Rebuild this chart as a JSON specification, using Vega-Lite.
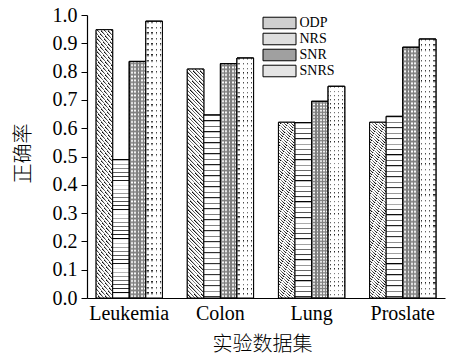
{
 "$schema": "https://vega.github.io/schema/vega-lite/v6.json",
 "width": 358, "height": 283,
 "autosize": {"type": "none"},
 "padding": {"left": 87, "top": 15, "right": 5, "bottom": 60},
 "background": "white",
 "config": {"font": "Liberation Serif", "view": {"stroke": null},
  "axis": {"grid": false, "domainColor": "#000", "tickColor": "#000", "labelColor": "#000", "titleColor": "#000", "domainWidth": 1.2,
   "labelFont": "Liberation Serif", "labelFontSize": 20, "titleFont": "Noto Sans CJK SC", "titleFontSize": 20, "titleFontWeight": 300}},
 "data": {"values": [
  {"dataset": "Leukemia", "method": "ODP", "value": 0.948},
  {"dataset": "Leukemia", "method": "NRS", "value": 0.489},
  {"dataset": "Leukemia", "method": "SNR", "value": 0.836},
  {"dataset": "Leukemia", "method": "SNRS", "value": 0.978},
  {"dataset": "Colon", "method": "ODP", "value": 0.809},
  {"dataset": "Colon", "method": "NRS", "value": 0.647},
  {"dataset": "Colon", "method": "SNR", "value": 0.828},
  {"dataset": "Colon", "method": "SNRS", "value": 0.848},
  {"dataset": "Lung", "method": "ODP", "value": 0.621},
  {"dataset": "Lung", "method": "NRS", "value": 0.62},
  {"dataset": "Lung", "method": "SNR", "value": 0.695},
  {"dataset": "Lung", "method": "SNRS", "value": 0.748},
  {"dataset": "Proslate", "method": "ODP", "value": 0.621},
  {"dataset": "Proslate", "method": "NRS", "value": 0.642},
  {"dataset": "Proslate", "method": "SNR", "value": 0.886},
  {"dataset": "Proslate", "method": "SNRS", "value": 0.915}
 ]},
 "encoding": {
  "x": {"field": "dataset", "type": "nominal", "sort": ["Leukemia", "Colon", "Lung", "Proslate"],
   "scale": {"paddingInner": 0.273, "paddingOuter": 0.1},
   "axis": {"title": "实验数据集", "labelAngle": 0, "ticks": false, "labelFont": "Liberation Serif", "labelFontSize": 20, "labelPadding": 5,
    "titleFont": "Noto Sans CJK SC", "titleFontSize": 20, "titleFontWeight": 300, "titleX": 175, "titleY": 46, "titleBaseline": "middle", "titleAlign": "center"}},
  "xOffset": {"field": "method", "type": "nominal", "sort": ["ODP", "NRS", "SNR", "SNRS"], "scale": {"domain": ["ODP", "NRS", "SNR", "SNRS"]}},
  "y": {"field": "value", "type": "quantitative", "scale": {"domain": [0, 1], "nice": false},
   "axis": {"title": "正确率", "values": [0, 0.1, 0.2, 0.3, 0.4, 0.5, 0.6, 0.7, 0.8, 0.9, 1.0], "format": ".1f", "tickSize": 6, "labelPadding": 4,
    "labelFont": "Liberation Serif", "labelFontSize": 20, "titleFont": "Noto Sans CJK SC", "titleFontSize": 20, "titleFontWeight": 300,
    "titleX": -64, "titleY": 138, "titleAngle": 270, "titleBaseline": "middle", "titleAlign": "center"}}
 },
 "layer": [
  {"mark": {"type": "bar", "stroke": "#000", "strokeWidth": 1},
   "encoding": {"color": {"field": "method", "type": "nominal",
    "scale": {"domain": ["ODP", "NRS", "SNR", "SNRS"], "range": ["#cfcfcf", "#dedede", "#a0a0a0", "#e4e4e4"]},
    "legend": {"orient": "none", "legendX": 185.5, "legendY": 1, "title": null, "padding": 0,
     "symbolType": "M-3,-1.05H3V1.05H-3Z", "symbolSize": 121, "symbolStrokeColor": "#000", "symbolStrokeWidth": 1, "symbolOpacity": 1,
     "labelFont": "Liberation Serif", "labelFontSize": 14, "labelColor": "#000", "labelOffset": 13, "rowPadding": 0}}}},
  {"transform": [{"filter": "datum.method === 'ODP'"}],
   "mark": {"type": "bar", "stroke": "#000", "strokeWidth": 1,
    "fill": {"gradient": "linear", "x1": 0, "y1": 1, "x2": 0.082, "y2": -0.071, "stops": [
      {"offset": 0, "color": "#000"}, {"offset": 0.007, "color": "#fff"}, {"offset": 0.015, "color": "#fff"},
      {"offset": 0.015, "color": "#000"}, {"offset": 0.022, "color": "#fff"}, {"offset": 0.03, "color": "#fff"},
      {"offset": 0.03, "color": "#000"}, {"offset": 0.037, "color": "#fff"}, {"offset": 0.045, "color": "#fff"},
      {"offset": 0.045, "color": "#000"}, {"offset": 0.052, "color": "#fff"}, {"offset": 0.06, "color": "#fff"},
      {"offset": 0.06, "color": "#000"}, {"offset": 0.067, "color": "#fff"}, {"offset": 0.075, "color": "#fff"},
      {"offset": 0.075, "color": "#000"}, {"offset": 0.082, "color": "#fff"}, {"offset": 0.09, "color": "#fff"},
      {"offset": 0.09, "color": "#000"}, {"offset": 0.097, "color": "#fff"}, {"offset": 0.105, "color": "#fff"},
      {"offset": 0.105, "color": "#000"}, {"offset": 0.112, "color": "#fff"}, {"offset": 0.12, "color": "#fff"},
      {"offset": 0.12, "color": "#000"}, {"offset": 0.127, "color": "#fff"}, {"offset": 0.135, "color": "#fff"},
      {"offset": 0.135, "color": "#000"}, {"offset": 0.142, "color": "#fff"}, {"offset": 0.15, "color": "#fff"},
      {"offset": 0.15, "color": "#000"}, {"offset": 0.157, "color": "#fff"}, {"offset": 0.165, "color": "#fff"},
      {"offset": 0.165, "color": "#000"}, {"offset": 0.172, "color": "#fff"}, {"offset": 0.18, "color": "#fff"},
      {"offset": 0.18, "color": "#000"}, {"offset": 0.187, "color": "#fff"}, {"offset": 0.195, "color": "#fff"},
      {"offset": 0.195, "color": "#000"}, {"offset": 0.202, "color": "#fff"}, {"offset": 0.21, "color": "#fff"},
      {"offset": 0.21, "color": "#000"}, {"offset": 0.217, "color": "#fff"}, {"offset": 0.225, "color": "#fff"},
      {"offset": 0.225, "color": "#000"}, {"offset": 0.232, "color": "#fff"}, {"offset": 0.24, "color": "#fff"},
      {"offset": 0.24, "color": "#000"}, {"offset": 0.247, "color": "#fff"}, {"offset": 0.255, "color": "#fff"},
      {"offset": 0.255, "color": "#000"}, {"offset": 0.262, "color": "#fff"}, {"offset": 0.27, "color": "#fff"},
      {"offset": 0.27, "color": "#000"}, {"offset": 0.277, "color": "#fff"}, {"offset": 0.285, "color": "#fff"},
      {"offset": 0.285, "color": "#000"}, {"offset": 0.292, "color": "#fff"}, {"offset": 0.3, "color": "#fff"},
      {"offset": 0.3, "color": "#000"}, {"offset": 0.307, "color": "#fff"}, {"offset": 0.315, "color": "#fff"},
      {"offset": 0.315, "color": "#000"}, {"offset": 0.322, "color": "#fff"}, {"offset": 0.33, "color": "#fff"},
      {"offset": 0.33, "color": "#000"}, {"offset": 0.337, "color": "#fff"}, {"offset": 0.345, "color": "#fff"},
      {"offset": 0.345, "color": "#000"}, {"offset": 0.352, "color": "#fff"}, {"offset": 0.36, "color": "#fff"},
      {"offset": 0.36, "color": "#000"}, {"offset": 0.367, "color": "#fff"}, {"offset": 0.375, "color": "#fff"},
      {"offset": 0.375, "color": "#000"}, {"offset": 0.382, "color": "#fff"}, {"offset": 0.39, "color": "#fff"},
      {"offset": 0.39, "color": "#000"}, {"offset": 0.397, "color": "#fff"}, {"offset": 0.405, "color": "#fff"},
      {"offset": 0.405, "color": "#000"}, {"offset": 0.412, "color": "#fff"}, {"offset": 0.42, "color": "#fff"},
      {"offset": 0.42, "color": "#000"}, {"offset": 0.427, "color": "#fff"}, {"offset": 0.435, "color": "#fff"},
      {"offset": 0.435, "color": "#000"}, {"offset": 0.442, "color": "#fff"}, {"offset": 0.45, "color": "#fff"},
      {"offset": 0.45, "color": "#000"}, {"offset": 0.457, "color": "#fff"}, {"offset": 0.465, "color": "#fff"},
      {"offset": 0.465, "color": "#000"}, {"offset": 0.472, "color": "#fff"}, {"offset": 0.48, "color": "#fff"},
      {"offset": 0.48, "color": "#000"}, {"offset": 0.487, "color": "#fff"}, {"offset": 0.495, "color": "#fff"},
      {"offset": 0.495, "color": "#000"}, {"offset": 0.502, "color": "#fff"}, {"offset": 0.51, "color": "#fff"},
      {"offset": 0.51, "color": "#000"}, {"offset": 0.517, "color": "#fff"}, {"offset": 0.525, "color": "#fff"},
      {"offset": 0.525, "color": "#000"}, {"offset": 0.532, "color": "#fff"}, {"offset": 0.54, "color": "#fff"},
      {"offset": 0.54, "color": "#000"}, {"offset": 0.547, "color": "#fff"}, {"offset": 0.555, "color": "#fff"},
      {"offset": 0.555, "color": "#000"}, {"offset": 0.562, "color": "#fff"}, {"offset": 0.57, "color": "#fff"},
      {"offset": 0.57, "color": "#000"}, {"offset": 0.577, "color": "#fff"}, {"offset": 0.585, "color": "#fff"},
      {"offset": 0.585, "color": "#000"}, {"offset": 0.592, "color": "#fff"}, {"offset": 0.6, "color": "#fff"},
      {"offset": 0.6, "color": "#000"}, {"offset": 0.607, "color": "#fff"}, {"offset": 0.615, "color": "#fff"},
      {"offset": 0.615, "color": "#000"}, {"offset": 0.622, "color": "#fff"}, {"offset": 0.63, "color": "#fff"},
      {"offset": 0.63, "color": "#000"}, {"offset": 0.637, "color": "#fff"}, {"offset": 0.645, "color": "#fff"},
      {"offset": 0.645, "color": "#000"}, {"offset": 0.652, "color": "#fff"}, {"offset": 0.66, "color": "#fff"},
      {"offset": 0.66, "color": "#000"}, {"offset": 0.667, "color": "#fff"}, {"offset": 0.675, "color": "#fff"},
      {"offset": 0.675, "color": "#000"}, {"offset": 0.682, "color": "#fff"}, {"offset": 0.69, "color": "#fff"},
      {"offset": 0.69, "color": "#000"}, {"offset": 0.697, "color": "#fff"}, {"offset": 0.705, "color": "#fff"},
      {"offset": 0.705, "color": "#000"}, {"offset": 0.712, "color": "#fff"}, {"offset": 0.72, "color": "#fff"},
      {"offset": 0.72, "color": "#000"}, {"offset": 0.727, "color": "#fff"}, {"offset": 0.735, "color": "#fff"},
      {"offset": 0.735, "color": "#000"}, {"offset": 0.742, "color": "#fff"}, {"offset": 0.75, "color": "#fff"},
      {"offset": 0.75, "color": "#000"}, {"offset": 0.757, "color": "#fff"}, {"offset": 0.765, "color": "#fff"},
      {"offset": 0.765, "color": "#000"}, {"offset": 0.772, "color": "#fff"}, {"offset": 0.78, "color": "#fff"},
      {"offset": 0.78, "color": "#000"}, {"offset": 0.787, "color": "#fff"}, {"offset": 0.795, "color": "#fff"},
      {"offset": 0.795, "color": "#000"}, {"offset": 0.802, "color": "#fff"}, {"offset": 0.81, "color": "#fff"},
      {"offset": 0.81, "color": "#000"}, {"offset": 0.817, "color": "#fff"}, {"offset": 0.825, "color": "#fff"},
      {"offset": 0.825, "color": "#000"}, {"offset": 0.832, "color": "#fff"}, {"offset": 0.84, "color": "#fff"},
      {"offset": 0.84, "color": "#000"}, {"offset": 0.847, "color": "#fff"}, {"offset": 0.855, "color": "#fff"},
      {"offset": 0.855, "color": "#000"}, {"offset": 0.862, "color": "#fff"}, {"offset": 0.87, "color": "#fff"},
      {"offset": 0.87, "color": "#000"}, {"offset": 0.877, "color": "#fff"}, {"offset": 0.885, "color": "#fff"},
      {"offset": 0.885, "color": "#000"}, {"offset": 0.892, "color": "#fff"}, {"offset": 0.9, "color": "#fff"},
      {"offset": 0.9, "color": "#000"}, {"offset": 0.907, "color": "#fff"}, {"offset": 0.915, "color": "#fff"},
      {"offset": 0.915, "color": "#000"}, {"offset": 0.922, "color": "#fff"}, {"offset": 0.93, "color": "#fff"},
      {"offset": 0.93, "color": "#000"}, {"offset": 0.937, "color": "#fff"}, {"offset": 0.945, "color": "#fff"},
      {"offset": 0.945, "color": "#000"}, {"offset": 0.952, "color": "#fff"}, {"offset": 0.96, "color": "#fff"},
      {"offset": 0.96, "color": "#000"}, {"offset": 0.967, "color": "#fff"}, {"offset": 0.975, "color": "#fff"},
      {"offset": 0.975, "color": "#000"}, {"offset": 0.982, "color": "#fff"}, {"offset": 0.99, "color": "#fff"},
      {"offset": 0.99, "color": "#000"}, {"offset": 0.997, "color": "#fff"}, {"offset": 1, "color": "#fff"}
     ]}}},
  {"transform": [{"filter": "datum.method === 'NRS'"}],
   "mark": {"type": "bar", "stroke": "#000", "strokeWidth": 1,
    "fill": {"gradient": "linear", "x1": 0, "y1": 0, "x2": 0, "y2": 1, "stops": [
      {"offset": 0, "color": "#000"}, {"offset": 0.008, "color": "#fff"}, {"offset": 0.03, "color": "#fff"},
      {"offset": 0.03, "color": "#000"}, {"offset": 0.038, "color": "#fff"}, {"offset": 0.06, "color": "#fff"},
      {"offset": 0.06, "color": "#000"}, {"offset": 0.068, "color": "#fff"}, {"offset": 0.09, "color": "#fff"},
      {"offset": 0.09, "color": "#000"}, {"offset": 0.098, "color": "#fff"}, {"offset": 0.12, "color": "#fff"},
      {"offset": 0.12, "color": "#000"}, {"offset": 0.128, "color": "#fff"}, {"offset": 0.15, "color": "#fff"},
      {"offset": 0.15, "color": "#000"}, {"offset": 0.158, "color": "#fff"}, {"offset": 0.18, "color": "#fff"},
      {"offset": 0.18, "color": "#000"}, {"offset": 0.188, "color": "#fff"}, {"offset": 0.21, "color": "#fff"},
      {"offset": 0.21, "color": "#000"}, {"offset": 0.218, "color": "#fff"}, {"offset": 0.24, "color": "#fff"},
      {"offset": 0.24, "color": "#000"}, {"offset": 0.248, "color": "#fff"}, {"offset": 0.27, "color": "#fff"},
      {"offset": 0.27, "color": "#000"}, {"offset": 0.278, "color": "#fff"}, {"offset": 0.3, "color": "#fff"},
      {"offset": 0.3, "color": "#000"}, {"offset": 0.308, "color": "#fff"}, {"offset": 0.33, "color": "#fff"},
      {"offset": 0.33, "color": "#000"}, {"offset": 0.338, "color": "#fff"}, {"offset": 0.36, "color": "#fff"},
      {"offset": 0.36, "color": "#000"}, {"offset": 0.368, "color": "#fff"}, {"offset": 0.39, "color": "#fff"},
      {"offset": 0.39, "color": "#000"}, {"offset": 0.398, "color": "#fff"}, {"offset": 0.42, "color": "#fff"},
      {"offset": 0.42, "color": "#000"}, {"offset": 0.428, "color": "#fff"}, {"offset": 0.45, "color": "#fff"},
      {"offset": 0.45, "color": "#000"}, {"offset": 0.458, "color": "#fff"}, {"offset": 0.48, "color": "#fff"},
      {"offset": 0.48, "color": "#000"}, {"offset": 0.488, "color": "#fff"}, {"offset": 0.51, "color": "#fff"},
      {"offset": 0.51, "color": "#000"}, {"offset": 0.518, "color": "#fff"}, {"offset": 0.54, "color": "#fff"},
      {"offset": 0.54, "color": "#000"}, {"offset": 0.548, "color": "#fff"}, {"offset": 0.57, "color": "#fff"},
      {"offset": 0.57, "color": "#000"}, {"offset": 0.578, "color": "#fff"}, {"offset": 0.6, "color": "#fff"},
      {"offset": 0.6, "color": "#000"}, {"offset": 0.608, "color": "#fff"}, {"offset": 0.63, "color": "#fff"},
      {"offset": 0.63, "color": "#000"}, {"offset": 0.638, "color": "#fff"}, {"offset": 0.66, "color": "#fff"},
      {"offset": 0.66, "color": "#000"}, {"offset": 0.668, "color": "#fff"}, {"offset": 0.69, "color": "#fff"},
      {"offset": 0.69, "color": "#000"}, {"offset": 0.698, "color": "#fff"}, {"offset": 0.72, "color": "#fff"},
      {"offset": 0.72, "color": "#000"}, {"offset": 0.728, "color": "#fff"}, {"offset": 0.75, "color": "#fff"},
      {"offset": 0.75, "color": "#000"}, {"offset": 0.758, "color": "#fff"}, {"offset": 0.78, "color": "#fff"},
      {"offset": 0.78, "color": "#000"}, {"offset": 0.788, "color": "#fff"}, {"offset": 0.81, "color": "#fff"},
      {"offset": 0.81, "color": "#000"}, {"offset": 0.818, "color": "#fff"}, {"offset": 0.84, "color": "#fff"},
      {"offset": 0.84, "color": "#000"}, {"offset": 0.848, "color": "#fff"}, {"offset": 0.87, "color": "#fff"},
      {"offset": 0.87, "color": "#000"}, {"offset": 0.878, "color": "#fff"}, {"offset": 0.9, "color": "#fff"},
      {"offset": 0.9, "color": "#000"}, {"offset": 0.908, "color": "#fff"}, {"offset": 0.93, "color": "#fff"},
      {"offset": 0.93, "color": "#000"}, {"offset": 0.938, "color": "#fff"}, {"offset": 0.96, "color": "#fff"},
      {"offset": 0.96, "color": "#000"}, {"offset": 0.968, "color": "#fff"}, {"offset": 0.99, "color": "#fff"},
      {"offset": 0.99, "color": "#000"}, {"offset": 0.998, "color": "#fff"}, {"offset": 1, "color": "#fff"}
     ]}}},
  {"transform": [{"filter": "datum.method === 'SNR'"}],
   "mark": {"type": "bar", "stroke": "#000", "strokeWidth": 1,
    "fill": {"gradient": "linear", "x1": 0, "y1": 0, "x2": 1, "y2": 0, "stops": [
      {"offset": 0, "color": "#808080"}, {"offset": 0.1, "color": "#808080"}, {"offset": 0.1, "color": "#fff"}, {"offset": 0.2, "color": "#fff"},
      {"offset": 0.2, "color": "#808080"}, {"offset": 0.3, "color": "#808080"}, {"offset": 0.3, "color": "#fff"}, {"offset": 0.4, "color": "#fff"},
      {"offset": 0.4, "color": "#808080"}, {"offset": 0.5, "color": "#808080"}, {"offset": 0.5, "color": "#fff"}, {"offset": 0.6, "color": "#fff"},
      {"offset": 0.6, "color": "#808080"}, {"offset": 0.7, "color": "#808080"}, {"offset": 0.7, "color": "#fff"}, {"offset": 0.8, "color": "#fff"},
      {"offset": 0.8, "color": "#808080"}, {"offset": 0.9, "color": "#808080"}, {"offset": 0.9, "color": "#fff"}, {"offset": 1, "color": "#fff"}
     ]}}},
  {"transform": [{"filter": "datum.method === 'SNR'"}],
   "mark": {"type": "bar", "stroke": "#000", "strokeWidth": 1,
    "fill": {"gradient": "linear", "x1": 0, "y1": 0, "x2": 0, "y2": 1, "stops": [
     {"offset": 0, "color": "rgba(128,128,128,0)"}, {"offset": 0.008, "color": "#808080"}, {"offset": 0.016, "color": "rgba(128,128,128,0)"}, {"offset": 0.024, "color": "#808080"},
     {"offset": 0.032, "color": "rgba(128,128,128,0)"}, {"offset": 0.04, "color": "#808080"}, {"offset": 0.048, "color": "rgba(128,128,128,0)"}, {"offset": 0.056, "color": "#808080"},
     {"offset": 0.064, "color": "rgba(128,128,128,0)"}, {"offset": 0.072, "color": "#808080"}, {"offset": 0.08, "color": "rgba(128,128,128,0)"}, {"offset": 0.088, "color": "#808080"},
     {"offset": 0.096, "color": "rgba(128,128,128,0)"}, {"offset": 0.104, "color": "#808080"}, {"offset": 0.112, "color": "rgba(128,128,128,0)"}, {"offset": 0.12, "color": "#808080"},
     {"offset": 0.128, "color": "rgba(128,128,128,0)"}, {"offset": 0.136, "color": "#808080"}, {"offset": 0.144, "color": "rgba(128,128,128,0)"}, {"offset": 0.152, "color": "#808080"},
     {"offset": 0.16, "color": "rgba(128,128,128,0)"}, {"offset": 0.168, "color": "#808080"}, {"offset": 0.176, "color": "rgba(128,128,128,0)"}, {"offset": 0.184, "color": "#808080"},
     {"offset": 0.192, "color": "rgba(128,128,128,0)"}, {"offset": 0.2, "color": "#808080"}, {"offset": 0.208, "color": "rgba(128,128,128,0)"}, {"offset": 0.216, "color": "#808080"},
     {"offset": 0.224, "color": "rgba(128,128,128,0)"}, {"offset": 0.232, "color": "#808080"}, {"offset": 0.24, "color": "rgba(128,128,128,0)"}, {"offset": 0.248, "color": "#808080"},
     {"offset": 0.256, "color": "rgba(128,128,128,0)"}, {"offset": 0.264, "color": "#808080"}, {"offset": 0.272, "color": "rgba(128,128,128,0)"}, {"offset": 0.28, "color": "#808080"},
     {"offset": 0.288, "color": "rgba(128,128,128,0)"}, {"offset": 0.296, "color": "#808080"}, {"offset": 0.304, "color": "rgba(128,128,128,0)"}, {"offset": 0.312, "color": "#808080"},
     {"offset": 0.32, "color": "rgba(128,128,128,0)"}, {"offset": 0.328, "color": "#808080"}, {"offset": 0.336, "color": "rgba(128,128,128,0)"}, {"offset": 0.344, "color": "#808080"},
     {"offset": 0.352, "color": "rgba(128,128,128,0)"}, {"offset": 0.36, "color": "#808080"}, {"offset": 0.368, "color": "rgba(128,128,128,0)"}, {"offset": 0.376, "color": "#808080"},
     {"offset": 0.384, "color": "rgba(128,128,128,0)"}, {"offset": 0.392, "color": "#808080"}, {"offset": 0.4, "color": "rgba(128,128,128,0)"}, {"offset": 0.408, "color": "#808080"},
     {"offset": 0.416, "color": "rgba(128,128,128,0)"}, {"offset": 0.424, "color": "#808080"}, {"offset": 0.432, "color": "rgba(128,128,128,0)"}, {"offset": 0.44, "color": "#808080"},
     {"offset": 0.448, "color": "rgba(128,128,128,0)"}, {"offset": 0.456, "color": "#808080"}, {"offset": 0.464, "color": "rgba(128,128,128,0)"}, {"offset": 0.472, "color": "#808080"},
     {"offset": 0.48, "color": "rgba(128,128,128,0)"}, {"offset": 0.488, "color": "#808080"}, {"offset": 0.496, "color": "rgba(128,128,128,0)"}, {"offset": 0.504, "color": "#808080"},
     {"offset": 0.512, "color": "rgba(128,128,128,0)"}, {"offset": 0.52, "color": "#808080"}, {"offset": 0.528, "color": "rgba(128,128,128,0)"}, {"offset": 0.536, "color": "#808080"},
     {"offset": 0.544, "color": "rgba(128,128,128,0)"}, {"offset": 0.552, "color": "#808080"}, {"offset": 0.56, "color": "rgba(128,128,128,0)"}, {"offset": 0.568, "color": "#808080"},
     {"offset": 0.576, "color": "rgba(128,128,128,0)"}, {"offset": 0.584, "color": "#808080"}, {"offset": 0.592, "color": "rgba(128,128,128,0)"}, {"offset": 0.6, "color": "#808080"},
     {"offset": 0.608, "color": "rgba(128,128,128,0)"}, {"offset": 0.616, "color": "#808080"}, {"offset": 0.624, "color": "rgba(128,128,128,0)"}, {"offset": 0.632, "color": "#808080"},
     {"offset": 0.64, "color": "rgba(128,128,128,0)"}, {"offset": 0.648, "color": "#808080"}, {"offset": 0.656, "color": "rgba(128,128,128,0)"}, {"offset": 0.664, "color": "#808080"},
     {"offset": 0.672, "color": "rgba(128,128,128,0)"}, {"offset": 0.68, "color": "#808080"}, {"offset": 0.688, "color": "rgba(128,128,128,0)"}, {"offset": 0.696, "color": "#808080"},
     {"offset": 0.704, "color": "rgba(128,128,128,0)"}, {"offset": 0.712, "color": "#808080"}, {"offset": 0.72, "color": "rgba(128,128,128,0)"}, {"offset": 0.728, "color": "#808080"},
     {"offset": 0.736, "color": "rgba(128,128,128,0)"}, {"offset": 0.744, "color": "#808080"}, {"offset": 0.752, "color": "rgba(128,128,128,0)"}, {"offset": 0.76, "color": "#808080"},
     {"offset": 0.768, "color": "rgba(128,128,128,0)"}, {"offset": 0.776, "color": "#808080"}, {"offset": 0.784, "color": "rgba(128,128,128,0)"}, {"offset": 0.792, "color": "#808080"},
     {"offset": 0.8, "color": "rgba(128,128,128,0)"}, {"offset": 0.808, "color": "#808080"}, {"offset": 0.816, "color": "rgba(128,128,128,0)"}, {"offset": 0.824, "color": "#808080"},
     {"offset": 0.832, "color": "rgba(128,128,128,0)"}, {"offset": 0.84, "color": "#808080"}, {"offset": 0.848, "color": "rgba(128,128,128,0)"}, {"offset": 0.856, "color": "#808080"},
     {"offset": 0.864, "color": "rgba(128,128,128,0)"}, {"offset": 0.872, "color": "#808080"}, {"offset": 0.88, "color": "rgba(128,128,128,0)"}, {"offset": 0.888, "color": "#808080"},
     {"offset": 0.896, "color": "rgba(128,128,128,0)"}, {"offset": 0.904, "color": "#808080"}, {"offset": 0.912, "color": "rgba(128,128,128,0)"}, {"offset": 0.92, "color": "#808080"},
     {"offset": 0.928, "color": "rgba(128,128,128,0)"}, {"offset": 0.936, "color": "#808080"}, {"offset": 0.944, "color": "rgba(128,128,128,0)"}, {"offset": 0.952, "color": "#808080"},
     {"offset": 0.96, "color": "rgba(128,128,128,0)"}, {"offset": 0.968, "color": "#808080"}, {"offset": 0.976, "color": "rgba(128,128,128,0)"}, {"offset": 0.984, "color": "#808080"},
     {"offset": 0.992, "color": "rgba(128,128,128,0)"}, {"offset": 1, "color": "#808080"}
    ]}}},
  {"transform": [{"filter": "datum.method === 'SNRS'"}],
   "mark": {"type": "bar", "stroke": "#000", "strokeWidth": 1,
    "fill": {"gradient": "linear", "x1": 0, "y1": 0, "x2": 1, "y2": 0, "stops": [
      {"offset": 0, "color": "#fff"}, {"offset": 0.085, "color": "#fff"}, {"offset": 0.085, "color": "#222"}, {"offset": 0.175, "color": "#222"},
      {"offset": 0.175, "color": "#fff"}, {"offset": 0.335, "color": "#fff"}, {"offset": 0.335, "color": "#222"}, {"offset": 0.425, "color": "#222"},
      {"offset": 0.425, "color": "#fff"}, {"offset": 0.585, "color": "#fff"}, {"offset": 0.585, "color": "#222"}, {"offset": 0.675, "color": "#222"},
      {"offset": 0.675, "color": "#fff"}, {"offset": 0.835, "color": "#fff"}, {"offset": 0.835, "color": "#222"}, {"offset": 0.925, "color": "#222"},
      {"offset": 0.925, "color": "#fff"}, {"offset": 1, "color": "#fff"}
     ]}}},
  {"transform": [{"filter": "datum.method === 'SNRS'"}],
   "mark": {"type": "bar", "stroke": "#000", "strokeWidth": 1,
    "fill": {"gradient": "linear", "x1": 0, "y1": 0, "x2": 0, "y2": 1, "stops": [
     {"offset": 0, "color": "rgba(255,255,255,0)"}, {"offset": 0.01, "color": "#fff"}, {"offset": 0.02, "color": "#fff"},
     {"offset": 0.02, "color": "rgba(255,255,255,0)"}, {"offset": 0.03, "color": "#fff"}, {"offset": 0.04, "color": "#fff"},
     {"offset": 0.04, "color": "rgba(255,255,255,0)"}, {"offset": 0.05, "color": "#fff"}, {"offset": 0.06, "color": "#fff"},
     {"offset": 0.06, "color": "rgba(255,255,255,0)"}, {"offset": 0.07, "color": "#fff"}, {"offset": 0.08, "color": "#fff"},
     {"offset": 0.08, "color": "rgba(255,255,255,0)"}, {"offset": 0.09, "color": "#fff"}, {"offset": 0.1, "color": "#fff"},
     {"offset": 0.1, "color": "rgba(255,255,255,0)"}, {"offset": 0.11, "color": "#fff"}, {"offset": 0.12, "color": "#fff"},
     {"offset": 0.12, "color": "rgba(255,255,255,0)"}, {"offset": 0.13, "color": "#fff"}, {"offset": 0.14, "color": "#fff"},
     {"offset": 0.14, "color": "rgba(255,255,255,0)"}, {"offset": 0.15, "color": "#fff"}, {"offset": 0.16, "color": "#fff"},
     {"offset": 0.16, "color": "rgba(255,255,255,0)"}, {"offset": 0.17, "color": "#fff"}, {"offset": 0.18, "color": "#fff"},
     {"offset": 0.18, "color": "rgba(255,255,255,0)"}, {"offset": 0.19, "color": "#fff"}, {"offset": 0.2, "color": "#fff"},
     {"offset": 0.2, "color": "rgba(255,255,255,0)"}, {"offset": 0.21, "color": "#fff"}, {"offset": 0.22, "color": "#fff"},
     {"offset": 0.22, "color": "rgba(255,255,255,0)"}, {"offset": 0.23, "color": "#fff"}, {"offset": 0.24, "color": "#fff"},
     {"offset": 0.24, "color": "rgba(255,255,255,0)"}, {"offset": 0.25, "color": "#fff"}, {"offset": 0.26, "color": "#fff"},
     {"offset": 0.26, "color": "rgba(255,255,255,0)"}, {"offset": 0.27, "color": "#fff"}, {"offset": 0.28, "color": "#fff"},
     {"offset": 0.28, "color": "rgba(255,255,255,0)"}, {"offset": 0.29, "color": "#fff"}, {"offset": 0.3, "color": "#fff"},
     {"offset": 0.3, "color": "rgba(255,255,255,0)"}, {"offset": 0.31, "color": "#fff"}, {"offset": 0.32, "color": "#fff"},
     {"offset": 0.32, "color": "rgba(255,255,255,0)"}, {"offset": 0.33, "color": "#fff"}, {"offset": 0.34, "color": "#fff"},
     {"offset": 0.34, "color": "rgba(255,255,255,0)"}, {"offset": 0.35, "color": "#fff"}, {"offset": 0.36, "color": "#fff"},
     {"offset": 0.36, "color": "rgba(255,255,255,0)"}, {"offset": 0.37, "color": "#fff"}, {"offset": 0.38, "color": "#fff"},
     {"offset": 0.38, "color": "rgba(255,255,255,0)"}, {"offset": 0.39, "color": "#fff"}, {"offset": 0.4, "color": "#fff"},
     {"offset": 0.4, "color": "rgba(255,255,255,0)"}, {"offset": 0.41, "color": "#fff"}, {"offset": 0.42, "color": "#fff"},
     {"offset": 0.42, "color": "rgba(255,255,255,0)"}, {"offset": 0.43, "color": "#fff"}, {"offset": 0.44, "color": "#fff"},
     {"offset": 0.44, "color": "rgba(255,255,255,0)"}, {"offset": 0.45, "color": "#fff"}, {"offset": 0.46, "color": "#fff"},
     {"offset": 0.46, "color": "rgba(255,255,255,0)"}, {"offset": 0.47, "color": "#fff"}, {"offset": 0.48, "color": "#fff"},
     {"offset": 0.48, "color": "rgba(255,255,255,0)"}, {"offset": 0.49, "color": "#fff"}, {"offset": 0.5, "color": "#fff"},
     {"offset": 0.5, "color": "rgba(255,255,255,0)"}, {"offset": 0.51, "color": "#fff"}, {"offset": 0.52, "color": "#fff"},
     {"offset": 0.52, "color": "rgba(255,255,255,0)"}, {"offset": 0.53, "color": "#fff"}, {"offset": 0.54, "color": "#fff"},
     {"offset": 0.54, "color": "rgba(255,255,255,0)"}, {"offset": 0.55, "color": "#fff"}, {"offset": 0.56, "color": "#fff"},
     {"offset": 0.56, "color": "rgba(255,255,255,0)"}, {"offset": 0.57, "color": "#fff"}, {"offset": 0.58, "color": "#fff"},
     {"offset": 0.58, "color": "rgba(255,255,255,0)"}, {"offset": 0.59, "color": "#fff"}, {"offset": 0.6, "color": "#fff"},
     {"offset": 0.6, "color": "rgba(255,255,255,0)"}, {"offset": 0.61, "color": "#fff"}, {"offset": 0.62, "color": "#fff"},
     {"offset": 0.62, "color": "rgba(255,255,255,0)"}, {"offset": 0.63, "color": "#fff"}, {"offset": 0.64, "color": "#fff"},
     {"offset": 0.64, "color": "rgba(255,255,255,0)"}, {"offset": 0.65, "color": "#fff"}, {"offset": 0.66, "color": "#fff"},
     {"offset": 0.66, "color": "rgba(255,255,255,0)"}, {"offset": 0.67, "color": "#fff"}, {"offset": 0.68, "color": "#fff"},
     {"offset": 0.68, "color": "rgba(255,255,255,0)"}, {"offset": 0.69, "color": "#fff"}, {"offset": 0.7, "color": "#fff"},
     {"offset": 0.7, "color": "rgba(255,255,255,0)"}, {"offset": 0.71, "color": "#fff"}, {"offset": 0.72, "color": "#fff"},
     {"offset": 0.72, "color": "rgba(255,255,255,0)"}, {"offset": 0.73, "color": "#fff"}, {"offset": 0.74, "color": "#fff"},
     {"offset": 0.74, "color": "rgba(255,255,255,0)"}, {"offset": 0.75, "color": "#fff"}, {"offset": 0.76, "color": "#fff"},
     {"offset": 0.76, "color": "rgba(255,255,255,0)"}, {"offset": 0.77, "color": "#fff"}, {"offset": 0.78, "color": "#fff"},
     {"offset": 0.78, "color": "rgba(255,255,255,0)"}, {"offset": 0.79, "color": "#fff"}, {"offset": 0.8, "color": "#fff"},
     {"offset": 0.8, "color": "rgba(255,255,255,0)"}, {"offset": 0.81, "color": "#fff"}, {"offset": 0.82, "color": "#fff"},
     {"offset": 0.82, "color": "rgba(255,255,255,0)"}, {"offset": 0.83, "color": "#fff"}, {"offset": 0.84, "color": "#fff"},
     {"offset": 0.84, "color": "rgba(255,255,255,0)"}, {"offset": 0.85, "color": "#fff"}, {"offset": 0.86, "color": "#fff"},
     {"offset": 0.86, "color": "rgba(255,255,255,0)"}, {"offset": 0.87, "color": "#fff"}, {"offset": 0.88, "color": "#fff"},
     {"offset": 0.88, "color": "rgba(255,255,255,0)"}, {"offset": 0.89, "color": "#fff"}, {"offset": 0.9, "color": "#fff"},
     {"offset": 0.9, "color": "rgba(255,255,255,0)"}, {"offset": 0.91, "color": "#fff"}, {"offset": 0.92, "color": "#fff"},
     {"offset": 0.92, "color": "rgba(255,255,255,0)"}, {"offset": 0.93, "color": "#fff"}, {"offset": 0.94, "color": "#fff"},
     {"offset": 0.94, "color": "rgba(255,255,255,0)"}, {"offset": 0.95, "color": "#fff"}, {"offset": 0.96, "color": "#fff"},
     {"offset": 0.96, "color": "rgba(255,255,255,0)"}, {"offset": 0.97, "color": "#fff"}, {"offset": 0.98, "color": "#fff"},
     {"offset": 0.98, "color": "rgba(255,255,255,0)"}, {"offset": 0.99, "color": "#fff"}, {"offset": 1, "color": "#fff"}
    ]}}}
 ]
}
